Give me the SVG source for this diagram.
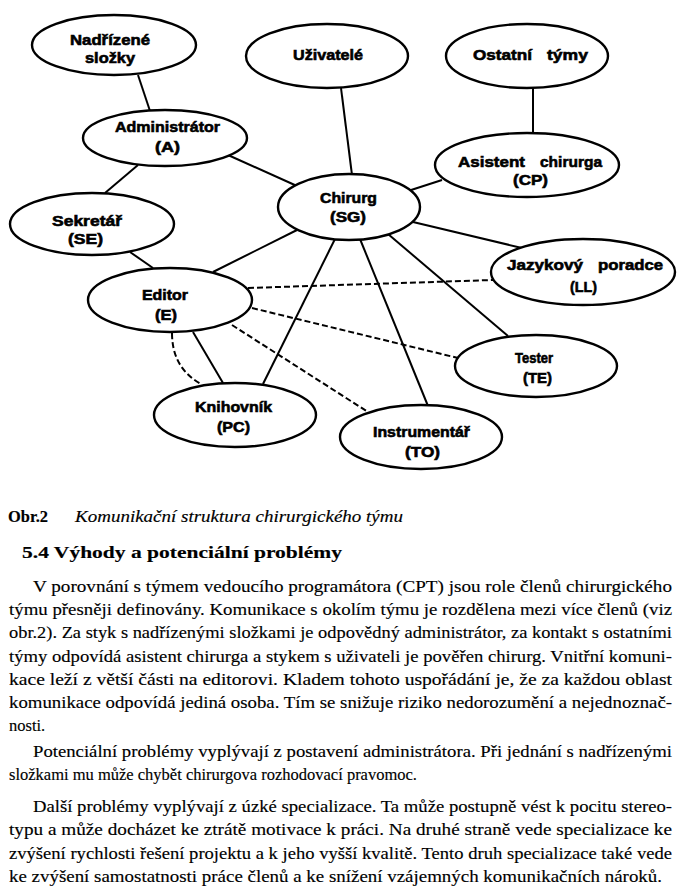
<svg xmlns="http://www.w3.org/2000/svg" width="682" height="895" viewBox="0 0 682 895">
<style>
.n ellipse{fill:#fff;stroke:#000;stroke-width:2.4}
.n text{font-family:"Liberation Sans",Arial,sans-serif;font-weight:bold;font-size:15px;fill:#000;stroke:#000;stroke-width:0.6}
.c line,.c path{stroke:#000;stroke-width:2;fill:none}
.c .d{stroke-dasharray:6 3}
.b{font-family:"Liberation Serif","Times New Roman",serif;font-size:16.5px;fill:#000;stroke:#000;stroke-width:0.15}
</style>
<rect width="682" height="895" fill="#fff"/>
<g class="c" id="connectors">
<line x1="138" y1="75" x2="150" y2="111"/>
<line x1="138" y1="165" x2="105" y2="193"/>
<line x1="228" y1="155" x2="297" y2="186"/>
<line x1="341" y1="88" x2="352" y2="175"/>
<line x1="533" y1="88" x2="533" y2="133"/>
<line x1="442" y1="180" x2="408" y2="191"/>
<line x1="413" y1="222" x2="522" y2="248"/>
<line x1="388" y1="234" x2="508" y2="336"/>
<line x1="360" y1="239" x2="428" y2="406"/>
<line x1="335" y1="239" x2="263" y2="384"/>
<line x1="297" y1="230" x2="213" y2="272"/>
<line x1="130" y1="252" x2="153" y2="268"/>
<line x1="193" y1="332" x2="223" y2="383"/>
<path class="d" d="M172,333 Q172,368 201,384"/>
<line class="d" x1="248" y1="288" x2="493" y2="280"/>
<line class="d" x1="252" y1="308" x2="458" y2="358"/>
<line class="d" x1="232" y1="325" x2="368" y2="412"/>
</g>
<g class="n" id="nadrizene"><ellipse cx="114" cy="45" rx="82" ry="30"/><text x="70" y="45" textLength="80" lengthAdjust="spacingAndGlyphs">Nadřízené</text><text x="85" y="63" textLength="50" lengthAdjust="spacingAndGlyphs">složky</text></g>
<g class="n" id="uzivatele"><ellipse cx="327" cy="56" rx="81" ry="32"/><text x="293" y="60" textLength="70" lengthAdjust="spacingAndGlyphs">Uživatelé</text></g>
<g class="n" id="ostatni"><ellipse cx="527" cy="56" rx="81" ry="32"/><text x="473" y="60" textLength="59" lengthAdjust="spacingAndGlyphs">Ostatní</text><text x="547" y="60" textLength="41" lengthAdjust="spacingAndGlyphs">týmy</text></g>
<g class="n" id="administrator"><ellipse cx="165" cy="138" rx="82" ry="28"/><text x="115" y="132" textLength="105" lengthAdjust="spacingAndGlyphs">Administrátor</text><text x="155" y="152" textLength="25" lengthAdjust="spacingAndGlyphs">(A)</text></g>
<g class="n" id="asistent"><ellipse cx="527" cy="165" rx="92" ry="32"/><text x="458" y="167" textLength="67" lengthAdjust="spacingAndGlyphs">Asistent</text><text x="540" y="167" textLength="62" lengthAdjust="spacingAndGlyphs">chirurga</text><text x="513" y="185" textLength="35" lengthAdjust="spacingAndGlyphs">(CP)</text></g>
<g class="n" id="chirurg"><ellipse cx="349" cy="207" rx="71" ry="33"/><text x="320" y="203" textLength="57" lengthAdjust="spacingAndGlyphs">Chirurg</text><text x="330" y="222" textLength="36" lengthAdjust="spacingAndGlyphs">(SG)</text></g>
<g class="n" id="sekretar"><ellipse cx="92" cy="224" rx="82" ry="31"/><text x="52" y="226" textLength="70" lengthAdjust="spacingAndGlyphs">Sekretář</text><text x="68" y="244" textLength="35" lengthAdjust="spacingAndGlyphs">(SE)</text></g>
<g class="n" id="jazykovy"><ellipse cx="583" cy="272" rx="92" ry="33"/><text x="507" y="270" textLength="76" lengthAdjust="spacingAndGlyphs">Jazykový</text><text x="598" y="270" textLength="65" lengthAdjust="spacingAndGlyphs">poradce</text><text x="570" y="292" textLength="27" lengthAdjust="spacingAndGlyphs">(LL)</text></g>
<g class="n" id="editor"><ellipse cx="170" cy="300" rx="82" ry="32"/><text x="142" y="300" textLength="46" lengthAdjust="spacingAndGlyphs">Editor</text><text x="155" y="320" textLength="22" lengthAdjust="spacingAndGlyphs">(E)</text></g>
<g class="n" id="tester"><ellipse cx="536" cy="366" rx="81" ry="31"/><text x="515" y="363" textLength="38" lengthAdjust="spacingAndGlyphs">Tester</text><text x="523" y="383" textLength="29" lengthAdjust="spacingAndGlyphs">(TE)</text></g>
<g class="n" id="knihovnik"><ellipse cx="235" cy="415" rx="81" ry="32"/><text x="195" y="412" textLength="77" lengthAdjust="spacingAndGlyphs">Knihovník</text><text x="217" y="432" textLength="33" lengthAdjust="spacingAndGlyphs">(PC)</text></g>
<g class="n" id="instrumentar"><ellipse cx="421" cy="437" rx="81" ry="32"/><text x="373" y="437" textLength="97" lengthAdjust="spacingAndGlyphs">Instrumentář</text><text x="405" y="457" textLength="35" lengthAdjust="spacingAndGlyphs">(TO)</text></g>
<g id="text">
<text class="b" x="8" y="522" font-weight="bold" textLength="40" lengthAdjust="spacingAndGlyphs">Obr.2</text>
<text class="b" x="75" y="522" font-style="italic" font-size="15" textLength="328" lengthAdjust="spacingAndGlyphs">Komunikační struktura chirurgického týmu</text>
<text class="b" x="22" y="558" font-weight="bold" font-size="18" textLength="320" lengthAdjust="spacingAndGlyphs">5.4 Výhody a potenciální problémy</text>
<text class="b" x="33" y="592" textLength="639" lengthAdjust="spacingAndGlyphs">V porovnání s týmem vedoucího programátora (CPT) jsou role členů chirurgického</text>
<text class="b" x="9" y="615" textLength="663" lengthAdjust="spacingAndGlyphs">týmu přesněji definovány. Komunikace s okolím týmu je rozdělena mezi více členů (viz</text>
<text class="b" x="9" y="638" textLength="663" lengthAdjust="spacingAndGlyphs">obr.2). Za styk s nadřízenými složkami je odpovědný administrátor, za kontakt s ostatními</text>
<text class="b" x="9" y="662" textLength="663" lengthAdjust="spacingAndGlyphs">týmy odpovídá asistent chirurga a stykem s uživateli je pověřen chirurg. Vnitřní komuni-</text>
<text class="b" x="9" y="685" textLength="663" lengthAdjust="spacingAndGlyphs">kace leží z větší části na editorovi. Kladem tohoto uspořádání je, že za každou oblast</text>
<text class="b" x="9" y="708" textLength="663" lengthAdjust="spacingAndGlyphs">komunikace odpovídá jediná osoba. Tím se snižuje riziko nedorozumění a nejednoznač-</text>
<text class="b" x="9" y="731">nosti.</text>
<text class="b" x="33" y="757" textLength="639" lengthAdjust="spacingAndGlyphs">Potenciální problémy vyplývají z postavení administrátora. Při jednání s nadřízenými</text>
<text class="b" x="9" y="780" textLength="408" lengthAdjust="spacingAndGlyphs">složkami mu může chybět chirurgova rozhodovací pravomoc.</text>
<text class="b" x="33" y="812" textLength="639" lengthAdjust="spacingAndGlyphs">Další problémy vyplývají z úzké specializace. Ta může postupně vést k pocitu stereo-</text>
<text class="b" x="9" y="835" textLength="663" lengthAdjust="spacingAndGlyphs">typu a může docházet ke ztrátě motivace k práci. Na druhé straně vede specializace ke</text>
<text class="b" x="9" y="859" textLength="663" lengthAdjust="spacingAndGlyphs">zvýšení rychlosti řešení projektu a k jeho vyšší kvalitě. Tento druh specializace také vede</text>
<text class="b" x="9" y="882" textLength="653" lengthAdjust="spacingAndGlyphs">ke zvýšení samostatnosti práce členů a ke snížení vzájemných komunikačních nároků.</text>
</g>
</svg>
